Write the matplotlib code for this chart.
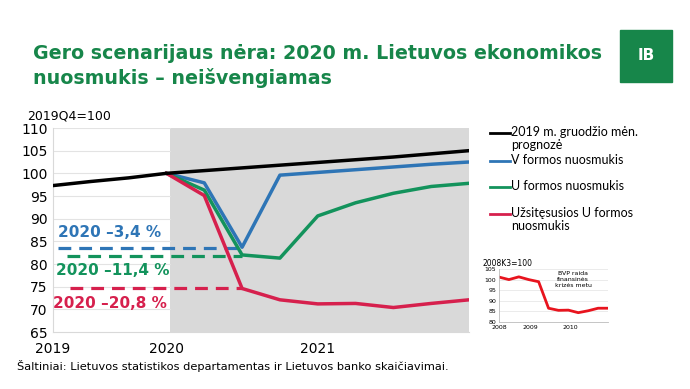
import numpy as np
import matplotlib.pyplot as plt
from matplotlib.lines import Line2D
from matplotlib.patches import Rectangle

# quarter index: 0 = 2019Q4
t_black = [-3, -2, -1, 0, 1, 2, 3, 4, 5, 6, 7, 8]
black = [97.3, 98.2, 99.0, 100.0, 100.6, 101.2, 101.8, 102.4, 103.0, 103.6, 104.3, 105.0]
t_scen = [0, 1, 2, 3, 4, 5, 6, 7, 8]
blue = [100.0, 97.9, 83.7, 99.6, 100.2, 100.8, 101.4, 102.0, 102.5]
green = [100.0, 96.3, 82.0, 81.3, 90.6, 93.5, 95.6, 97.1, 97.8]
red = [100.0, 95.1, 74.6, 72.1, 71.2, 71.3, 70.4, 71.3, 72.1]
avg_blue, avg_green, avg_red = 83.5, 81.8, 74.6
year_pos = [-3, 0, 4]
year_lab = ['2019', '2020', '2021']

inset_y = [101.2, 100.0, 101.3, 100.0, 99.0, 86.5, 85.5, 85.6, 84.4, 85.3, 86.5, 86.5]
inset_lab = ['2008', '2009', '2010']
inset_pos = [0, 3.2, 7.2]

C_BLUE = '#2e75b6'
C_GREEN = '#13935c'
C_RED = '#d6204d'
C_TITLE = '#17864a'

fig = plt.figure(figsize=(6.9, 3.89), dpi=100)

fig.text(0.048, 0.83, 'Gero scenarijaus nėra: 2020 m. Lietuvos ekonomikos\nnuosmukis – neišvengiamas',
         color=C_TITLE, fontsize=13.7, fontweight='bold', va='center', linespacing=1.35)
fig.patches.append(Rectangle((620/690, 1-82/389), 52/690, 52/389, transform=fig.transFigure,
                             color='#17864a'))
fig.text(646/690, 1-56/389, 'IB', color='white', fontsize=11, fontweight='bold',
         ha='center', va='center')

ax = fig.add_axes([53/690, 57/389, 416/690, 204/389])
ax.axvspan(0.1, 8, color='#d9d9d9', lw=0, zorder=0)
for y in range(70, 111, 5):
    ax.plot([-3, 0.1], [y, y], color='#e3e3e3', lw=0.8, zorder=1)

ax.plot(t_black, black, color='black', lw=2.5, zorder=4)
ax.plot(t_scen, blue, color=C_BLUE, lw=2.5, zorder=3)
ax.plot(t_scen, green, color=C_GREEN, lw=2.5, zorder=3)
ax.plot(t_scen, red, color=C_RED, lw=2.5, zorder=3)

ax.plot([-2.87, 2], [avg_blue] * 2, color=C_BLUE, lw=2.3, ls=(0, (4, 2.5)), zorder=2)
ax.plot([-2.62, 2], [avg_green] * 2, color=C_GREEN, lw=2.3, ls=(0, (4, 2.5)), zorder=2)
ax.plot([-2.55, 2], [avg_red] * 2, color=C_RED, lw=2.3, ls=(0, (4, 2.5)), zorder=2)
ax.text(-2.87, 85.2, '2020 –3,4 %', color=C_BLUE, fontsize=11, fontweight='bold', va='bottom')
ax.text(-2.92, 78.6, '2020 –11,4 %', color=C_GREEN, fontsize=11, fontweight='bold', va='center')
ax.text(-3.0, 71.3, '2020 –20,8 %', color=C_RED, fontsize=11, fontweight='bold', va='center')

ax.set_xlim(-3, 8)
ax.set_ylim(65, 110)
ax.set_yticks(range(65, 111, 5))
ax.set_xticks(year_pos)
ax.set_xticklabels(year_lab)
ax.tick_params(length=0, labelsize=10, pad=4)
ax.tick_params(axis='x', pad=7)
for s in ['top', 'right']:
    ax.spines[s].set_visible(False)
for s in ['left', 'bottom']:
    ax.spines[s].set_color('#d9d9d9')
fig.text(27/690, 1-116/389, '2019Q4=100', fontsize=9, va='center')

# legend
leg = [('black', 133, '2019 m. gruodžio mėn.\nprognozė'),
       (C_BLUE, 161, 'V formos nuosmukis'),
       (C_GREEN, 187, 'U formos nuosmukis'),
       (C_RED, 214, 'Užsitęsusios U formos\nnuosmukis')]
for col, yp, lab in leg:
    fig.lines.append(Line2D([490/690, 510/690], [1-yp/389] * 2, color=col, lw=2,
                            transform=fig.transFigure))
    fig.text(511/690, 1-(yp-7)/389, lab, fontsize=9, va='top', family='Lato', linespacing=1.1)

# inset
ia = fig.add_axes([499/690, 67/389, 109/690, 53/389])
ia.plot(range(len(inset_y)), inset_y, color='#e8141e', lw=2)
ia.set_xlim(0, 11)
ia.set_ylim(80, 105)
ia.set_yticks(range(80, 106, 5))
ia.set_xticks(inset_pos)
ia.set_xticklabels(inset_lab)
ia.tick_params(length=0, labelsize=4.5, pad=2)
ia.grid(axis='y', color='#e3e3e3', lw=0.5)
ia.set_axisbelow(True)
for s in ['top', 'right']:
    ia.spines[s].set_visible(False)
for s in ['left', 'bottom']:
    ia.spines[s].set_color('#bbbbbb')
    ia.spines[s].set_linewidth(0.6)
ia.text(7.5, 100, 'BVP raida\nfinansinės\nkrizės metu', fontsize=4.5, ha='center', va='center',
        linespacing=1.2)
fig.text(483/690, 1-263/389, '2008K3=100', fontsize=5.5, va='center')

fig.text(17/690, 1-366/389, 'Šaltiniai: Lietuvos statistikos departamentas ir Lietuvos banko skaičiavimai.',
         fontsize=8.2, va='center')

fig.savefig('out.png', dpi=100)
